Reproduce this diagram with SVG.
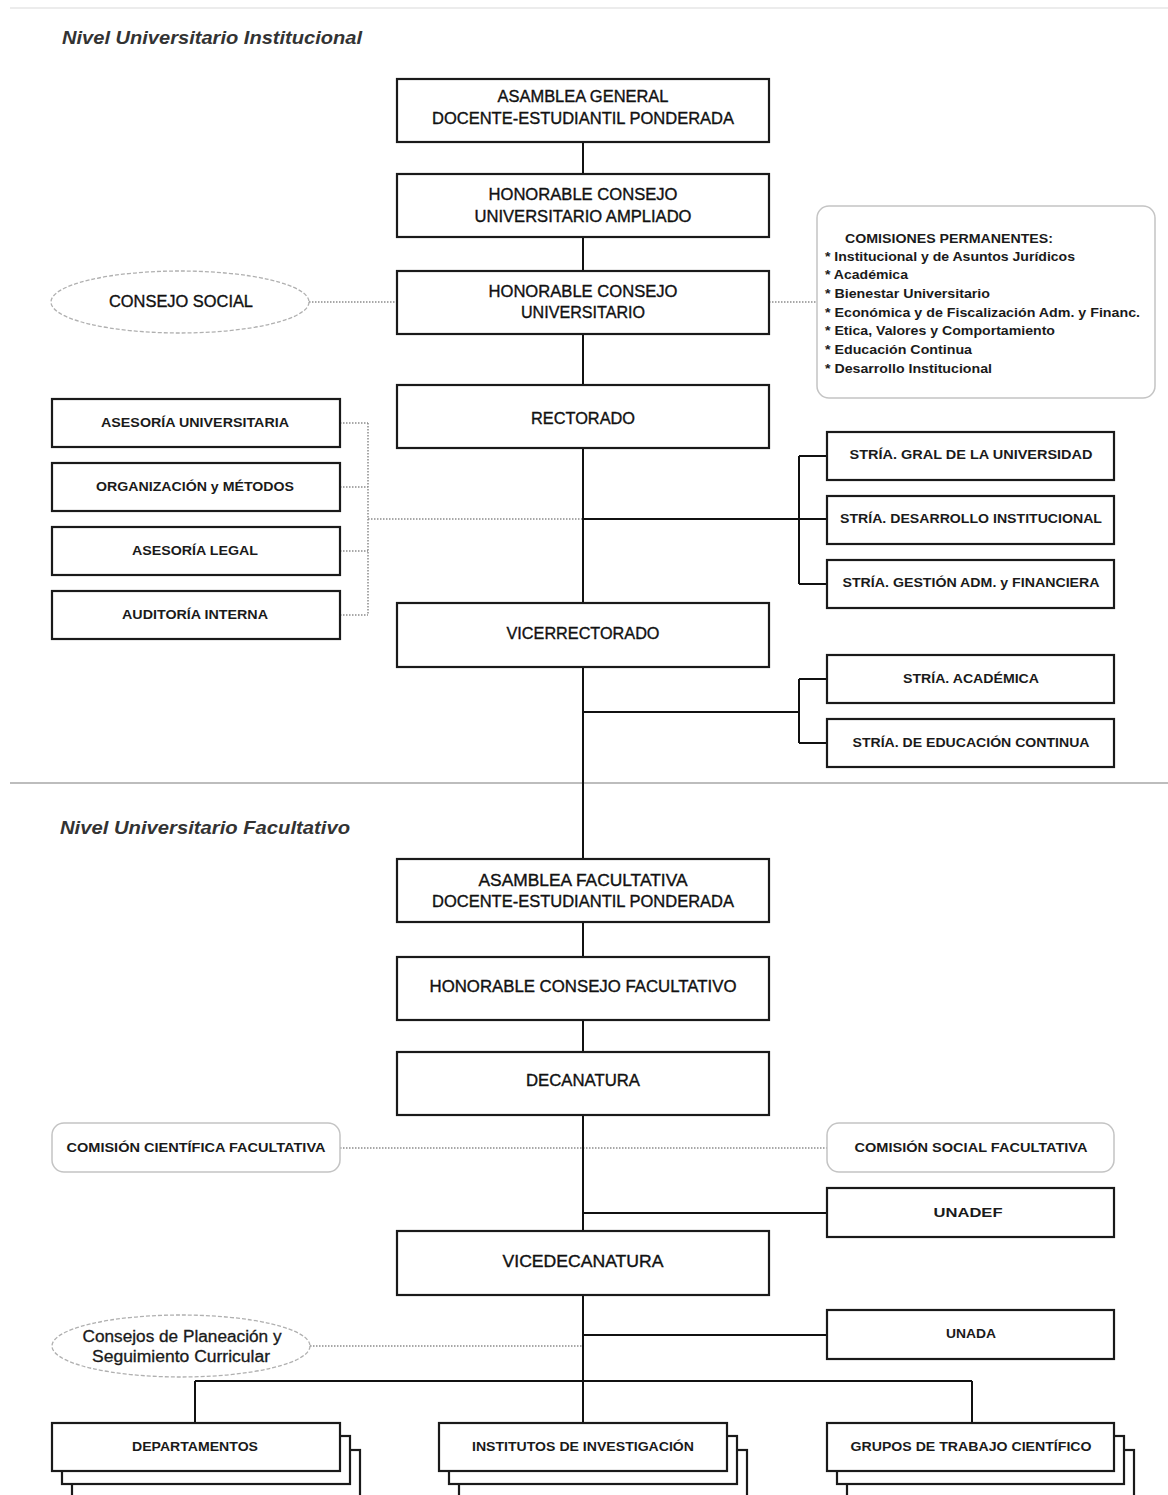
<svg xmlns="http://www.w3.org/2000/svg" width="1168" height="1495" viewBox="0 0 1168 1495">
<style>
.bx{fill:#fff;stroke:#1a1a1a;stroke-width:2.2}
.soft{fill:#fff;stroke:#c4c4c4;stroke-width:1.5}
.ell{fill:#fff;stroke:#b0b0b0;stroke-width:1.3;stroke-dasharray:4 2}
.ln{stroke:#111;stroke-width:2;fill:none}
.dt{stroke:#8c8c8c;stroke-width:1.5;stroke-dasharray:1.5 1.5;fill:none}
.sep{stroke:#bdbdbd;stroke-width:2;fill:none}
.t{font-family:"Liberation Sans",Arial,sans-serif;font-size:16px;fill:#111;stroke:#111;stroke-width:0.35;text-anchor:middle}
.s{font-family:"Liberation Sans",Arial,sans-serif;font-size:13.5px;font-weight:bold;fill:#1a1a1a;text-anchor:middle}
.h{font-family:"Liberation Sans",Arial,sans-serif;font-size:18px;font-weight:bold;font-style:italic;fill:#333}
.c{font-family:"Liberation Sans",Arial,sans-serif;font-size:12.5px;font-weight:bold;fill:#1a1a1a}
.r{font-family:"Liberation Sans",Arial,sans-serif;font-size:16px;fill:#1a1a1a;stroke:#1a1a1a;stroke-width:0.3;text-anchor:middle}
</style>
<rect x="0" y="0" width="1168" height="1495" fill="#fff"/>
<g id="background">
<path d="M10 8 H1168" stroke="#ececec" stroke-width="2"/>
<path class="sep" d="M10 783 H1168"/>
<text class="h" x="62" y="44" textLength="300" lengthAdjust="spacingAndGlyphs">Nivel Universitario Institucional</text>
<text class="h" x="60" y="834" textLength="290" lengthAdjust="spacingAndGlyphs">Nivel Universitario Facultativo</text>
</g>
<g id="connectors">
<path class="dt" d="M309 302 H397 M769 302 H817"/>
<path class="dt" d="M340 423 H368 M340 487 H368 M340 551 H368 M340 615 H368 M368 423 V615 M368 519 H583"/>
<path class="dt" d="M340 1148 H827"/>
<path class="dt" d="M310 1346 H583"/>
<path class="ln" d="M583 142 V1423"/>
<path class="ln" d="M583 519 H799 M799 456 V584 M799 456 H827 M799 519 H827 M799 584 H827"/>
<path class="ln" d="M583 712 H799 M799 679 V743 M799 679 H827 M799 743 H827"/>
<path class="ln" d="M583 1213 H827 M583 1335 H827"/>
<path class="ln" d="M195 1381 H972 M195 1381 V1423 M972 1381 V1423"/>
</g>
<g id="asamblea-general">
<rect class="bx" x="397" y="79" width="372" height="63"/>
<text class="t" x="583" y="102" textLength="171" lengthAdjust="spacingAndGlyphs">ASAMBLEA GENERAL</text>
<text class="t" x="583" y="124" textLength="302" lengthAdjust="spacingAndGlyphs">DOCENTE-ESTUDIANTIL PONDERADA</text>
</g>
<g id="hcu-ampliado">
<rect class="bx" x="397" y="174" width="372" height="63"/>
<text class="t" x="583" y="200" textLength="189" lengthAdjust="spacingAndGlyphs">HONORABLE CONSEJO</text>
<text class="t" x="583" y="222" textLength="217" lengthAdjust="spacingAndGlyphs">UNIVERSITARIO AMPLIADO</text>
</g>
<g id="hcu">
<rect class="bx" x="397" y="271" width="372" height="63"/>
<text class="t" x="583" y="297" textLength="189" lengthAdjust="spacingAndGlyphs">HONORABLE CONSEJO</text>
<text class="t" x="583" y="318" textLength="124" lengthAdjust="spacingAndGlyphs">UNIVERSITARIO</text>
</g>
<g id="consejo-social">
<ellipse class="ell" cx="180" cy="302" rx="129" ry="31"/>
<text class="t" x="181" y="307" textLength="144" lengthAdjust="spacingAndGlyphs">CONSEJO SOCIAL</text>
</g>
<g id="comisiones">
<rect class="soft" x="817" y="206" width="338" height="192" rx="12"/>
<text class="c" x="845" y="243" textLength="208" lengthAdjust="spacingAndGlyphs">COMISIONES PERMANENTES:</text>
<text class="c" x="825" y="261" textLength="250" lengthAdjust="spacingAndGlyphs">* Institucional y de Asuntos Jurídicos</text>
<text class="c" x="825" y="279" textLength="83" lengthAdjust="spacingAndGlyphs">* Académica</text>
<text class="c" x="825" y="298" textLength="165" lengthAdjust="spacingAndGlyphs">* Bienestar Universitario</text>
<text class="c" x="825" y="317" textLength="315" lengthAdjust="spacingAndGlyphs">* Económica y de Fiscalización Adm. y Financ.</text>
<text class="c" x="825" y="335" textLength="230" lengthAdjust="spacingAndGlyphs">* Etica, Valores y Comportamiento</text>
<text class="c" x="825" y="354" textLength="147" lengthAdjust="spacingAndGlyphs">* Educación Continua</text>
<text class="c" x="825" y="373" textLength="167" lengthAdjust="spacingAndGlyphs">* Desarrollo Institucional</text>
</g>
<g id="rectorado">
<rect class="bx" x="397" y="385" width="372" height="63"/>
<text class="t" x="583" y="424" textLength="104" lengthAdjust="spacingAndGlyphs">RECTORADO</text>
</g>
<g id="asesoria-universitaria">
<rect class="bx" x="52" y="399" width="288" height="48"/>
<text class="s" x="195" y="427" textLength="188" lengthAdjust="spacingAndGlyphs">ASESORÍA UNIVERSITARIA</text>
</g>
<g id="organizacion-metodos">
<rect class="bx" x="52" y="463" width="288" height="48"/>
<text class="s" x="195" y="491" textLength="198" lengthAdjust="spacingAndGlyphs">ORGANIZACIÓN y MÉTODOS</text>
</g>
<g id="asesoria-legal">
<rect class="bx" x="52" y="527" width="288" height="48"/>
<text class="s" x="195" y="555" textLength="126" lengthAdjust="spacingAndGlyphs">ASESORÍA LEGAL</text>
</g>
<g id="auditoria-interna">
<rect class="bx" x="52" y="591" width="288" height="48"/>
<text class="s" x="195" y="619" textLength="146" lengthAdjust="spacingAndGlyphs">AUDITORÍA INTERNA</text>
</g>
<g id="stria-gral">
<rect class="bx" x="827" y="432" width="287" height="48"/>
<text class="s" x="971" y="459" textLength="243" lengthAdjust="spacingAndGlyphs">STRÍA. GRAL DE LA  UNIVERSIDAD</text>
</g>
<g id="stria-desarrollo">
<rect class="bx" x="827" y="496" width="287" height="48"/>
<text class="s" x="971" y="523" textLength="262" lengthAdjust="spacingAndGlyphs">STRÍA. DESARROLLO INSTITUCIONAL</text>
</g>
<g id="stria-gestion">
<rect class="bx" x="827" y="560" width="287" height="48"/>
<text class="s" x="971" y="587" textLength="257" lengthAdjust="spacingAndGlyphs">STRÍA. GESTIÓN ADM. y FINANCIERA</text>
</g>
<g id="vicerrectorado">
<rect class="bx" x="397" y="603" width="372" height="64"/>
<text class="t" x="583" y="639" textLength="153" lengthAdjust="spacingAndGlyphs">VICERRECTORADO</text>
</g>
<g id="stria-academica">
<rect class="bx" x="827" y="655" width="287" height="48"/>
<text class="s" x="971" y="683" textLength="136" lengthAdjust="spacingAndGlyphs">STRÍA. ACADÉMICA</text>
</g>
<g id="stria-educacion">
<rect class="bx" x="827" y="719" width="287" height="48"/>
<text class="s" x="971" y="747" textLength="237" lengthAdjust="spacingAndGlyphs">STRÍA. DE EDUCACIÓN CONTINUA</text>
</g>
<g id="asamblea-facultativa">
<rect class="bx" x="397" y="859" width="372" height="63"/>
<text class="t" x="583" y="886" textLength="209" lengthAdjust="spacingAndGlyphs">ASAMBLEA FACULTATIVA</text>
<text class="t" x="583" y="907" textLength="302" lengthAdjust="spacingAndGlyphs">DOCENTE-ESTUDIANTIL PONDERADA</text>
</g>
<g id="hcf">
<rect class="bx" x="397" y="957" width="372" height="63"/>
<text class="t" x="583" y="992" textLength="307" lengthAdjust="spacingAndGlyphs">HONORABLE CONSEJO FACULTATIVO</text>
</g>
<g id="decanatura">
<rect class="bx" x="397" y="1052" width="372" height="63"/>
<text class="t" x="583" y="1086" textLength="114" lengthAdjust="spacingAndGlyphs">DECANATURA</text>
</g>
<g id="comision-cientifica">
<rect class="soft" x="52" y="1123" width="288" height="49" rx="12"/>
<text class="s" x="196" y="1152" textLength="259" lengthAdjust="spacingAndGlyphs">COMISIÓN CIENTÍFICA FACULTATIVA</text>
</g>
<g id="comision-social">
<rect class="soft" x="827" y="1123" width="287" height="49" rx="12"/>
<text class="s" x="971" y="1152" textLength="233" lengthAdjust="spacingAndGlyphs">COMISIÓN SOCIAL FACULTATIVA</text>
</g>
<g id="unadef">
<rect class="bx" x="827" y="1188" width="287" height="49"/>
<text class="s" x="968" y="1217" textLength="69" lengthAdjust="spacingAndGlyphs">UNADEF</text>
</g>
<g id="vicedecanatura">
<rect class="bx" x="397" y="1231" width="372" height="64"/>
<text class="t" x="583" y="1267" textLength="161" lengthAdjust="spacingAndGlyphs">VICEDECANATURA</text>
</g>
<g id="unada">
<rect class="bx" x="827" y="1310" width="287" height="49"/>
<text class="s" x="971" y="1338" textLength="50" lengthAdjust="spacingAndGlyphs">UNADA</text>
</g>
<g id="consejos-planeacion">
<ellipse class="ell" cx="181" cy="1346" rx="129" ry="31"/>
<text class="r" x="182" y="1342" textLength="199" lengthAdjust="spacingAndGlyphs">Consejos de Planeación y</text>
<text class="r" x="181" y="1362" textLength="178" lengthAdjust="spacingAndGlyphs">Seguimiento Curricular</text>
</g>
<g id="departamentos">
<rect class="bx" x="72" y="1450" width="288" height="48"/>
<rect class="bx" x="62" y="1436" width="288" height="48"/>
<rect class="bx" x="52" y="1423" width="288" height="48"/>
<text class="s" x="195" y="1451" textLength="126" lengthAdjust="spacingAndGlyphs">DEPARTAMENTOS</text>
</g>
<g id="institutos">
<rect class="bx" x="459" y="1450" width="288" height="48"/>
<rect class="bx" x="449" y="1436" width="288" height="48"/>
<rect class="bx" x="439" y="1423" width="288" height="48"/>
<text class="s" x="583" y="1451" textLength="222" lengthAdjust="spacingAndGlyphs">INSTITUTOS DE INVESTIGACIÓN</text>
</g>
<g id="grupos">
<rect class="bx" x="847" y="1450" width="287" height="48"/>
<rect class="bx" x="837" y="1436" width="287" height="48"/>
<rect class="bx" x="827" y="1423" width="287" height="48"/>
<text class="s" x="971" y="1451" textLength="241" lengthAdjust="spacingAndGlyphs">GRUPOS DE TRABAJO CIENTÍFICO</text>
</g>
</svg>
